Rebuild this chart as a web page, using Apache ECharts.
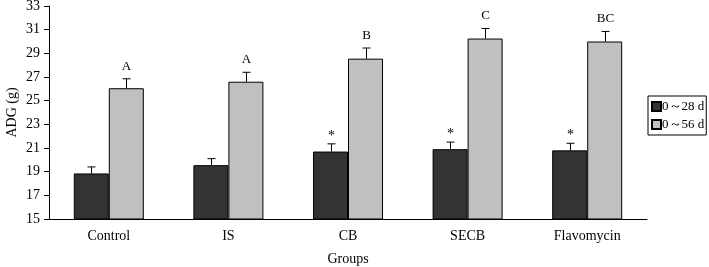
<!DOCTYPE html>
<html>
<head>
<meta charset="utf-8">
<script src="https://cdn.jsdelivr.net/npm/echarts@6/dist/echarts.min.js"></script>
<style>
  html, body { margin: 0; padding: 0; background: #fff; }
  #chart { width: 709px; height: 267px; }
</style>
</head>
<body>
<div id="chart"></div>
<script>
// groups on x axis
const categories = ['Control', 'IS', 'CB', 'SECB', 'Flavomycin']
// ADG values (g) and SE
const d28 = [18.85, 19.55, 20.7, 20.9, 20.8]
const d28Err = [0.55, 0.55, 0.65, 0.6, 0.6]
const d56 = [26.05, 26.6, 28.55, 30.25, 30.0]
const d56Err = [0.8, 0.8, 0.9, 0.85, 0.85]
const d28Marks = ['', '', '*', '*', '*']
const d56Marks = ['A', 'A', 'B', 'C', 'BC']
const yTicks = [15, 17, 19, 21, 23, 25, 27, 29, 31, 33]

const FONT = '"Liberation Serif", "DejaVu Serif", serif'
const BAR_W = 35

const chart = echarts.init(document.getElementById('chart'))

// error bar (top half + cap) with a letter above it
const errSeries = (name, vals, errs, marks, offset, markSize, markGap) => ({
  name,
  type: 'custom',
  z: 5,
  silent: true,
  data: vals.map((v, i) => [i, v, v + errs[i], marks[i]]),
  renderItem: (params, api) => {
    const base = api.coord([api.value(0), api.value(1)])
    const top = api.coord([api.value(0), api.value(2)])
    const x = Math.round(base[0] + offset) + 0.5
    const style = { stroke: '#000', lineWidth: 1 }
    return {
      type: 'group',
      children: [
        { type: 'line', shape: { x1: x, y1: base[1], x2: x, y2: top[1] }, style },
        { type: 'line', shape: { x1: x - 4, y1: top[1], x2: x + 4, y2: top[1] }, style },
        {
          type: 'text',
          style: {
            text: api.value(3) || '',
            x: x,
            y: top[1] - markGap,
            textAlign: 'center',
            textVerticalAlign: 'bottom',
            font: markSize + 'px ' + FONT,
            fill: '#000'
          }
        }
      ]
    }
  }
})

const option = {
  animation: false,
  backgroundColor: '#fff',
  textStyle: { fontFamily: FONT },
  grid: { left: 49, right: 62, top: 6, bottom: 48, outerBoundsMode: 'none' },
  legend: {
    orient: 'vertical',
    left: 648,
    top: 96,
    padding: [4, 2, 4, 3],
    itemGap: 5,
    itemWidth: 9,
    itemHeight: 9,
    icon: 'rect',
    borderColor: '#000',
    borderWidth: 1,
    borderRadius: 0,
    data: ['0～28 d', '0～56 d'],
    textStyle: { fontFamily: FONT, fontSize: 13, color: '#000', padding: [0, 0, 0, -4] }
  },
  xAxis: {
    type: 'category',
    data: categories,
    name: 'Groups',
    nameLocation: 'middle',
    nameGap: 33,
    nameTextStyle: { fontFamily: FONT, fontSize: 14, color: '#000' },
    axisLine: { lineStyle: { color: '#000', width: 1 } },
    axisTick: { inside: true, length: 5, lineStyle: { color: '#000' } },
    axisLabel: { fontFamily: FONT, fontSize: 14, color: '#000', margin: 10 }
  },
  yAxis: {
    type: 'value',
    min: 15,
    max: 33,
    interval: 2,
    name: 'ADG (g)',
    nameLocation: 'middle',
    nameGap: 30,
    nameMoveOverlap: false,
    nameTextStyle: { fontFamily: FONT, fontSize: 14, color: '#000' },
    axisLine: { show: true, lineStyle: { color: '#000', width: 1 } },
    axisTick: { show: true, length: 5, lineStyle: { color: '#000' } },
    axisLabel: {
      fontFamily: FONT, fontSize: 14, color: '#000', margin: 9,
      formatter: v => (yTicks.includes(v) ? String(v) : '')
    },
    splitLine: { show: false }
  },
  series: [
    {
      name: '0～28 d',
      type: 'bar',
      data: d28,
      barWidth: BAR_W,
      barGap: '0%',
      itemStyle: { color: '#333333', borderColor: '#000', borderWidth: 1 }
    },
    {
      name: '0～56 d',
      type: 'bar',
      data: d56,
      barWidth: BAR_W,
      barGap: '0%',
      itemStyle: { color: '#c0c0c0', borderColor: '#000', borderWidth: 1 }
    },
    errSeries('err28', d28, d28Err, d28Marks, -BAR_W / 2, 14, 1),
    errSeries('err56', d56, d56Err, d56Marks, BAR_W / 2, 13, 6)
  ]
}

chart.setOption(option)
</script>
</body>
</html>
